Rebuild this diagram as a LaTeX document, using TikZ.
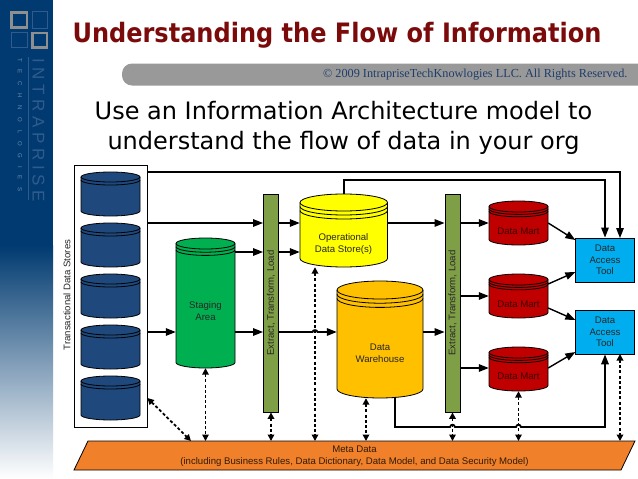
\documentclass[tikz,border=0pt]{standalone}
\usepackage{fontspec}
\setmainfont{Liberation Sans}
\newfontfamily\titlefont[FakeStretch=.9]{DejaVu Sans}
\newfontfamily\subfont{DejaVu Sans}
\newfontfamily\serifcopy{Liberation Serif}
\newfontfamily\brandfont[LetterSpace=27]{Liberation Sans}
\newfontfamily\brandsmall[LetterSpace=130]{Liberation Sans}
\usetikzlibrary{arrows.meta,shapes.geometric}
\definecolor{sidebar}{HTML}{003A70}
\definecolor{logoline}{HTML}{2F5C8C}
\definecolor{logogray}{HTML}{8F8F8F}
\definecolor{titlered}{HTML}{7B0A0A}
\definecolor{barbg}{HTML}{999999}
\definecolor{copyblue}{HTML}{1F3D6B}
\definecolor{tdsblue}{HTML}{1F497D}
\definecolor{stagegreen}{HTML}{00B050}
\definecolor{etlgreen}{HTML}{7F9F46}
\definecolor{odsyellow}{HTML}{FFFF00}
\definecolor{dwgold}{HTML}{FFC000}
\definecolor{martred}{HTML}{C00000}
\definecolor{toolblue}{HTML}{00AEEF}
\definecolor{metaorange}{HTML}{F0812A}
\tikzset{
  lbl/.style={font=\fontsize{9.6}{11.5}\selectfont,align=center,text=black!85},
  flow/.style={line width=1.4pt,-{Triangle[length=10pt,width=7.5pt]}},
  flowcurved/.style={line width=1.8pt,-{Triangle[length=10pt,width=7.5pt]}},
  meta/.style={line width=1.8pt,dash pattern=on 3pt off 2.2pt,{Triangle[length=6.5pt,width=6.5pt]}-{Triangle[length=6.5pt,width=6.5pt]}},
  etlbox/.style={draw=black,line width=.8pt,fill=etlgreen,minimum width=15pt,minimum height=218pt,inner sep=0pt},
  toolbox/.style={draw=black,line width=.8pt,fill=toolblue,minimum width=58.5pt,minimum height=44pt,inner sep=0pt,lbl}
}
% name, x1, y1, x2, y2, colour, cap ry, rim gap, rims
\newcommand{\drum}[9]{%
  \pgfmathsetmacro{\cxx}{(#2+#4)/2}\pgfmathsetmacro{\cyy}{(#3+#5)/2}%
  \pgfmathsetmacro{\kxx}{.5523*(#4-#2)/2}\pgfmathsetmacro{\kyy}{.5523*#7}%
  \draw[line width=.8pt,fill=#6] (#2,#3+#7) -- (#2,#5-#7)
     .. controls (#2,#5-#7+\kyy) and (\cxx-\kxx,#5) .. (\cxx,#5)
     .. controls (\cxx+\kxx,#5) and (#4,#5-#7+\kyy) .. (#4,#5-#7)
     -- (#4,#3+#7)
     .. controls (#4,#3+#7-\kyy) and (\cxx+\kxx,#3) .. (\cxx,#3)
     .. controls (\cxx-\kxx,#3) and (#2,#3+#7-\kyy) .. (#2,#3+#7) -- cycle;
  \foreach \k in {0,...,#9}{%
    \pgfmathsetmacro{\yy}{#3+#7+\k*#8}%
    \draw[line width=.8pt] (#2,\yy) .. controls (#2,\yy+\kyy) and (\cxx-\kxx,\yy+#7) .. (\cxx,\yy+#7)
       .. controls (\cxx+\kxx,\yy+#7) and (#4,\yy+\kyy) .. (#4,\yy);}%
  \node[inner sep=0pt,minimum width=#4 pt-#2 pt,minimum height=#5 pt-#3 pt] (#1) at (\cxx,\cyy) {};
}
\begin{document}
\begin{tikzpicture}[x=1pt,y=-1pt]
\useasboundingbox (0,0) rectangle (638,479);
\fill[white] (0,0) rectangle (638,479);
% sidebar
\fill[sidebar] (0,0) rectangle (53,245);
\shade[top color=sidebar,bottom color=white] (0,245) rectangle (53,479);
\draw[line width=2.6pt,logogray] (11.5,12.5) rectangle (27,27.5);
\draw[line width=.9pt,logoline] (32.5,11.5) rectangle (47.5,28);
\draw[line width=.9pt,logoline] (11.5,32.5) rectangle (27,47.5);
\draw[line width=2.6pt,logogray] (32.5,33) rectangle (47,47.5);
\draw[line width=.5pt,logoline] (28.5,57) -- (28.5,200);
\node[rotate=-90,text=logoline,font=\brandfont\fontsize{17}{17}\selectfont] (brand) at (38.5,130) {INTRAPRISE};
\node[rotate=-90,text=logoline!70!white,font=\brandsmall\fontsize{6}{6}\selectfont] (brandsub) at (20,125) {TECHNOLOGIES};
% header
\node[font=\titlefont\bfseries\fontsize{26.7}{30}\selectfont,text=titlered] (title) at (337,35) {Understanding the Flow of Information};
\fill[barbg,rounded corners=10pt] (122,63.5) rectangle (660,85.5);
\node[font=\serifcopy\fontsize{12.25}{14}\selectfont,text=copyblue,anchor=east] (copy) at (631,75) {© 2009 IntrapriseTechKnowlogies LLC. All Rights Reserved.};
\node[font=\subfont\fontsize{24}{30}\selectfont,align=center] (sub) at (343.5,128) {Use an Information Architecture model to\\understand the flow of data in your org};
% store frame
\node[draw=black,line width=.8pt,fill=white,minimum width=73pt,minimum height=262pt,inner sep=0pt] (tds) at (110.5,296) {};
\node[rotate=90,lbl] (tdslabel) at (67,295) {Transactional Data Stores};
\drum{t1}{81}{172}{140}{216}{tdsblue}{5}{3}{1}
\drum{t2}{81}{223}{140}{267}{tdsblue}{5}{3}{1}
\drum{t3}{81}{274}{140}{318}{tdsblue}{5}{3}{1}
\drum{t4}{81}{325}{140}{369}{tdsblue}{5}{3}{1}
\drum{t5}{81}{376}{140}{420}{tdsblue}{5}{3}{1}
\drum{stage}{176}{238}{235}{368}{stagegreen}{5.5}{3.2}{2}
\node[lbl] (stagetxt) at (205.5,311) {Staging\\Area};
\node[etlbox] (etla) at (271,303) {};
\node[rotate=90,lbl] (etlatxt) at (271,303) {Extract, Transform, Load};
\node[etlbox] (etlb) at (452.5,303) {};
\node[rotate=90,lbl] (etlbtxt) at (452.5,303) {Extract, Transform, Load};
\drum{ods}{300}{194}{387.5}{267}{odsyellow}{8.5}{4}{2}
\node[lbl] (odstxt) at (343.5,244) {Operational\\Data Store(s)};
\drum{dw}{337}{281}{423}{398}{dwgold}{9}{4.2}{2}
\node[lbl] (dwtxt) at (380,353) {Data\\Warehouse};
\drum{ma}{489}{201}{548}{245}{martred}{5.5}{2.4}{2}
\node[lbl,text=black!70!martred] (matxt) at (518.5,231) {Data Mart};
\drum{mb}{489}{274}{548}{318}{martred}{5.5}{2.4}{2}
\node[lbl,text=black!70!martred] (mbtxt) at (518.5,304.5) {Data Mart};
\drum{mc}{489}{347}{548}{391}{martred}{5.5}{2.4}{2}
\node[lbl,text=black!70!martred] (mctxt) at (518.5,376.5) {Data Mart};
\node[toolbox] (toola) at (605,260) {Data\\Access\\Tool};
\node[toolbox] (toolb) at (605,332) {Data\\Access\\Tool};
\coordinate (ml1) at (88,441); \coordinate (ml2) at (635,441); \coordinate (ml3) at (621,470); \coordinate (ml4) at (74,470);
\draw[line width=.8pt,fill=metaorange] (ml1) -- (ml2) -- (ml3) -- (ml4) -- cycle;
\node[lbl,text=black!80!metaorange,font=\fontsize{9.6}{12.5}\selectfont] (metatxt) at (354.5,456) {Meta Data\\(including Business Rules, Data Dictionary, Data Model, and Data Security Model)};
% solid connectors
\draw[flow] (tds.east |- 0,172) -- (620,172) -- (620,238);
\draw[flow] (ods.north -| 344,0) -- (344,180) -- (605,180) -- (toola.north);
\draw[flow] (tds.east |- 0,223) -- (etla.west |- 0,223);
\draw[flow] (etla.east |- 0,223) -- (ods.west |- 0,223);
\draw[flow] (stage.east |- 0,252) -- (etla.west |- 0,252);
\draw[flow] (etla.east |- 0,252) -- (ods.west |- 0,252);
\draw[flow] (tds.east |- 0,332) -- (stage.west |- 0,332);
\draw[flow] (stage.east |- 0,332) -- (etla.west |- 0,332);
\draw[flowcurved] (etla.east |- 0,332) -- (312.5,332) .. controls (313,329.5) and (317,329.5) .. (317.5,332) -- (dw.west |- 0,332);
\draw[flow] (dw.east |- 0,332) -- (etlb.west |- 0,332);
\draw[flow] (ods.east |- 0,223) -- (etlb.west |- 0,223);
\draw[flow] (etlb.east |- 0,223) -- (ma.west |- 0,223);
\draw[flow] (etlb.east |- 0,296) -- (mb.west |- 0,296);
\draw[flow] (etlb.east |- 0,368) -- (mc.west |- 0,368);
\draw[flow] (ma.east |- 0,223) -- (toola.west |- 0,240);
\draw[flow] (mb.east |- 0,284) -- (toola.west |- 0,272);
\draw[flow] (mb.east |- 0,308) -- (toolb.west |- 0,320);
\draw[flow] (mc.east |- 0,368) -- (toolb.west |- 0,352);
\draw[flowcurved] (dw.south -| 395,0) -- (395,427) -- (450,427) .. controls (450.5,424) and (454.5,424) .. (455,427) -- (516,427) .. controls (516.5,424) and (520.5,424) .. (521,427) -- (605,427) -- (toolb.south);
% dashed connectors
\draw[meta] (tds.east |- 0,398) -- (191,441);
\draw[meta] (stage.south) -- (205.5,441);
\draw[meta] (etla.south) -- (271,441);
\draw[meta] (ods.south -| 315,0) -- (315,441);
\draw[meta] (dw.south -| 366,0) -- (366,441);
\draw[meta] (etlb.south) -- (452.5,441);
\draw[meta] (mc.south) -- (518.5,441);
\draw[meta] (620,354) -- (620,441);
\end{tikzpicture}
\end{document}
